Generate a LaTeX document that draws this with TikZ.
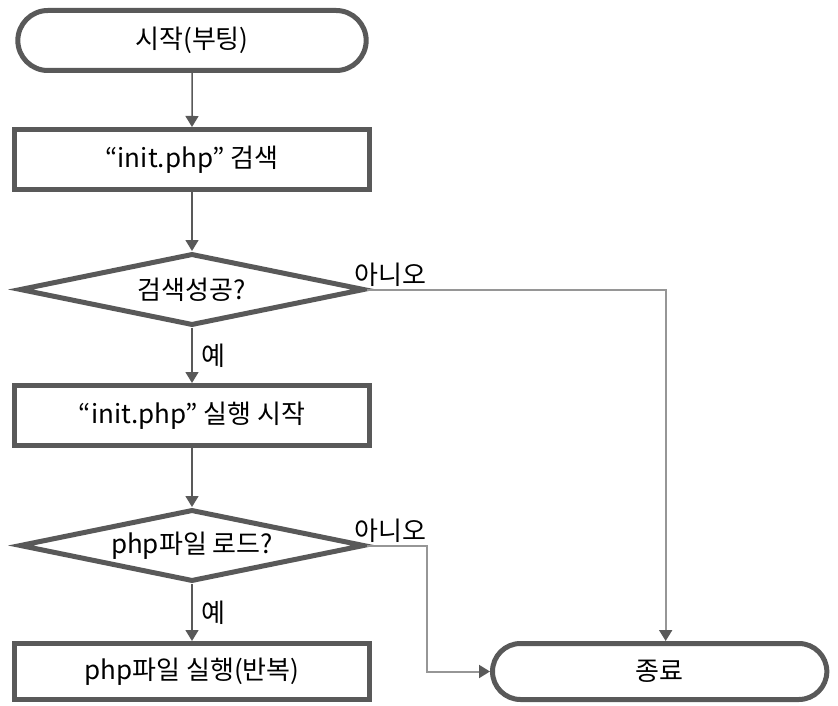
\documentclass[tikz,border=0pt]{standalone}
\usepackage{fontspec}
\setmainfont{Noto Sans CJK KR}
\usepackage{xcolor}
\usepackage{tikz}
\usetikzlibrary{arrows.meta,positioning,shapes.geometric,shapes.misc}

\definecolor{shapegray}{RGB}{89,89,89}
\definecolor{linegray}{RGB}{150,150,150}

\begin{document}
\begin{tikzpicture}[
        font=\fontsize{26}{30}\selectfont,
        terminal/.style={draw=shapegray, line width=5pt, rounded rectangle, minimum width=355pt, minimum height=60pt},
        process/.style={draw=shapegray, line width=5pt, rectangle, minimum width=355pt, minimum height=60pt},
        decision/.style={draw=shapegray, line width=5pt, diamond, aspect=4.8, inner sep=0pt, minimum width=345pt, minimum height=72pt},
        flow/.style={draw=shapegray, line width=1.5pt, -{Triangle[length=11pt,width=13pt]}},
        branch/.style={draw=linegray, line width=2pt, -{Triangle[length=11pt,width=13pt,color=shapegray]}},
        answer/.style={inner sep=1pt}]

        \useasboundingbox (0,0) rectangle (838pt,-706pt);

        % Main flow
        \node[terminal] (start) at (192pt,-40.5pt) {시작(부팅)};
        \node[process, below=54pt of start] (search) {“init.php” 검색};
        \node[decision, below=59pt of search] (found) {검색성공?};
        \node[process, below=55pt of found] (run) {“init.php” 실행 시작};
        \node[decision, below=59pt of run] (load) {php파일 로드?};
        \node[process, below=57pt of load, minimum height=56pt] (loop) {php파일 실행(반복)};

        % End
        \node[terminal, right=118pt of loop, minimum width=341pt, minimum height=56pt] (end) {종료};

        % Connections
        \draw[flow] (start) -- (search);
        \draw[flow] (search) -- (found);
        \draw[flow] (found) -- node[answer, right, xshift=8pt] {예} (run);
        \draw[flow] (run) -- (load);
        \draw[flow] (load) -- node[answer, right, xshift=8pt] {예} (loop);

        \draw[branch] (found.east) -| ([xshift=6pt]end.north);
        \draw[branch] (load.east) -- ++(60pt,0) |- (end.west);

        % Labels
        \node[answer, above right=2pt and -14pt of found.east] {아니오};
        \node[answer, above right=2pt and -14pt of load.east] {아니오};

\end{tikzpicture}
\end{document}
